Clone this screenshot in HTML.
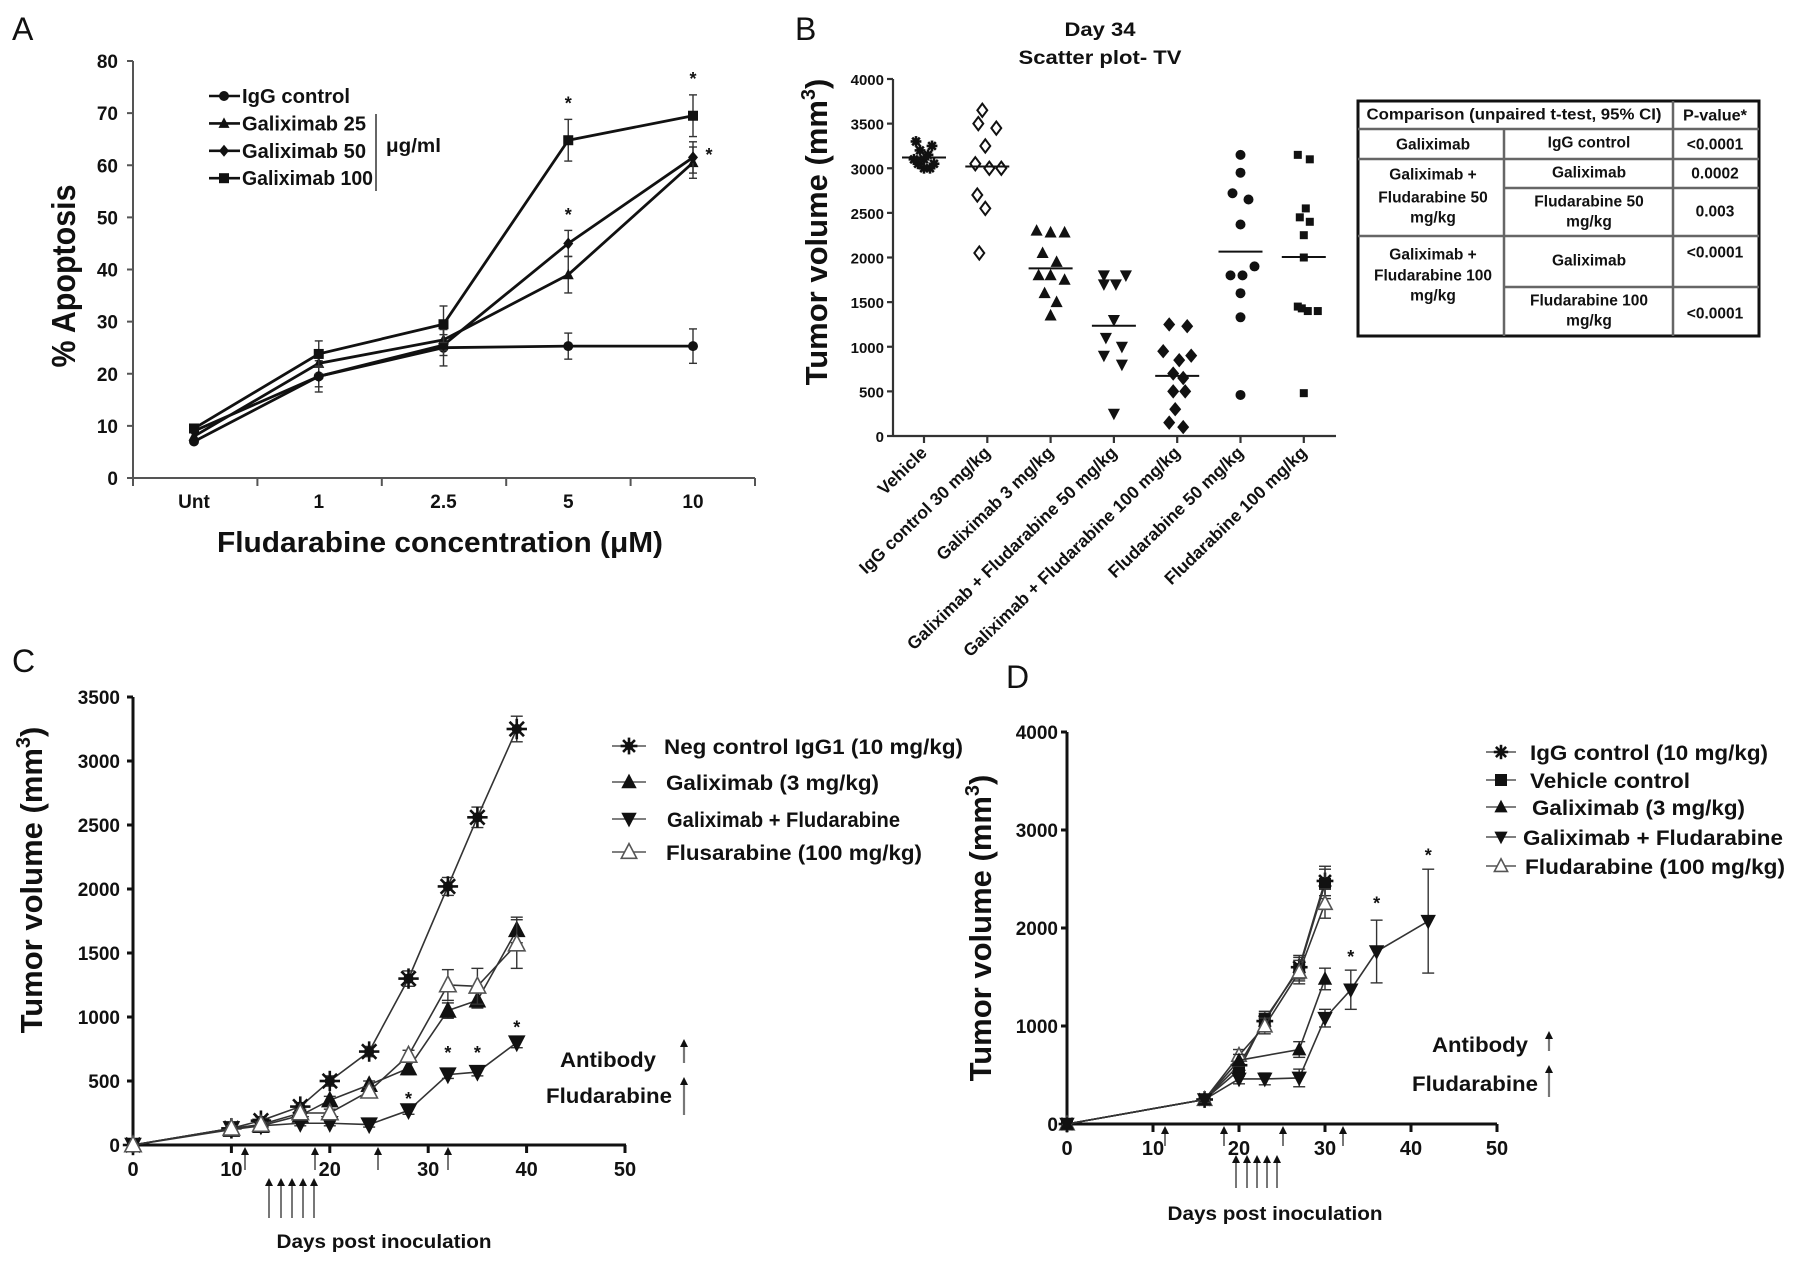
<!DOCTYPE html>
<html><head><meta charset="utf-8"><style>
html,body{margin:0;padding:0;background:#fff}
svg{display:block;font-family:"Liberation Sans",Arial,sans-serif}
</style></head><body>
<svg id="root" xmlns="http://www.w3.org/2000/svg" width="1795" height="1266" viewBox="0 0 1795 1266">
<rect width="1795" height="1266" fill="#fff"/>
<g id="pA"></g>
<g id="pB"></g>
<g id="pC"></g>
<g id="pD"></g>
</svg>
<script>
// ---------- Panel A data ----------
const catsA = ["Unt","1","2.5","5","10"];
const ticksA = [0,10,20,30,40,50,60,70,80];
const aIgg = [7,19.5,25,25.3,25.3];
const aIggErr = [1,3,3.5,2.5,3.3];
const aG25 = [8,22,26.5,39,60.5];
const aG25Err = [1,2,2,3.5,3];
const aG50 = [9,19.5,25.5,45,61.5];
const aG50Err = [1,2,2,2.5,3];
const aG100 = [9.5,23.8,29.5,64.8,69.5];
const aG100Err = [1,2.5,3.5,4,4];
// ---------- Panel B data ----------
const catsB = ["Vehicle","IgG control 30 mg/kg","Galiximab 3 mg/kg","Galiximab + Fludarabine 50 mg/kg","Galiximab + Fludarabine 100 mg/kg","Fludarabine 50 mg/kg","Fludarabine 100 mg/kg"];
const ticksB = [0,500,1000,1500,2000,2500,3000,3500,4000];
const bVehicle = [3300,3250,3200,3150,3100,3100,3050,3050,3000,3000];
const bIgg = [3650,3500,3450,3250,3050,3000,3000,2700,2550,2050];
const bGal = [2300,2280,2280,2050,1950,1800,1800,1750,1600,1500,1350];
const bGF50 = [1800,1800,1700,1700,1300,1100,1000,900,800,250];
const bGF100 = [1250,1230,950,900,850,700,650,500,500,300,150,100];
const bF50 = [3150,2950,2720,2650,2370,1900,1800,1800,1600,1330,460];
const bF100 = [3150,3100,2550,2450,2400,2250,2000,1450,1400,1400,1430,480];
// ---------- Panel C data ----------
const daysC = [0,10,13,17,20,24,28,32,35,39];
const ticksCy = [0,500,1000,1500,2000,2500,3000,3500];
const ticksCx = [0,10,20,30,40,50];
const cIgg = [0,130,190,300,500,730,1300,2020,2560,3250];
const cIggErr = [0,20,30,30,40,40,60,70,80,100];
const cGal = [0,120,150,230,350,470,600,1050,1130,1680];
const cGalErr = [0,20,20,30,30,30,50,60,60,100];
const cGF = [0,130,150,170,170,160,270,550,570,800];
const cGFErr = [0,20,20,20,20,20,30,30,30,40];
const cFlu = [0,130,160,250,250,420,700,1250,1240,1570];
const cFluErr = [0,20,20,30,30,30,40,120,140,190];
const cStarDays = [28,32,35,39];
const cStarVals = [375,733,733,935];
// ---------- Panel D data ----------
const ticksDy = [0,1000,2000,3000,4000];
const ticksDx = [0,10,20,30,40,50];
const dDays5 = [0,16,20,23,27,30];
const dIgg = [0,250,600,1050,1600,2480];
const dVeh = [0,250,550,1070,1580,2450];
const dFlu = [0,250,700,1000,1550,2250];
const dCtrlErr = [0,30,60,80,120,150];
const dDaysGal = [0,16,20,27,30];
const dGal = [0,250,650,760,1480];
const dGalErr = [0,30,60,80,110];
const dDaysGF = [0,16,20,23,27,30,33,36,42];
const dGF = [0,250,460,460,470,1080,1370,1760,2070];
const dGFErr = [0,30,50,60,90,90,200,320,530];
const dStarDays = [33,36,42];
const dStarVals = [1722,2270,2760];

const NS = "http://www.w3.org/2000/svg";
function mk(tag, attrs, parent){
  const e = document.createElementNS(NS, tag);
  for (const k in attrs) e.setAttribute(k, attrs[k]);
  parent.appendChild(e);
  return e;
}
function txt(parent, x, y, s, size, opts){
  opts = opts || {};
  const e = mk("text", {x:x, y:y, "font-size":size, "font-weight":opts.w||"bold", "text-anchor":opts.a||"start", fill:opts.fill||"#111"}, parent);
  if (opts.tl) { e.setAttribute("textLength", opts.tl); e.setAttribute("lengthAdjust","spacingAndGlyphs"); }
  if (opts.tr) e.setAttribute("transform", opts.tr);
  if (opts.db) e.setAttribute("dominant-baseline", opts.db);
  e.textContent = s;
  return e;
}
function marker(parent, type, cx, cy, s, color){
  color = color || "#111";
  let e;
  if (type==="circle") e = mk("circle",{cx:cx,cy:cy,r:s/2,fill:color},parent);
  else if (type==="square") e = mk("rect",{x:cx-s/2,y:cy-s/2,width:s,height:s,fill:color},parent);
  else if (type==="diamond") e = mk("polygon",{points:`${cx},${cy-s*0.6} ${cx+s*0.5},${cy} ${cx},${cy+s*0.6} ${cx-s*0.5},${cy}`,fill:color},parent);
  else if (type==="odiamond") e = mk("polygon",{points:`${cx},${cy-s*0.6} ${cx+s*0.45},${cy} ${cx},${cy+s*0.6} ${cx-s*0.45},${cy}`,fill:"#fff",stroke:color,"stroke-width":2},parent);
  else if (type==="tri") e = mk("polygon",{points:`${cx},${cy-s*0.6} ${cx+s*0.55},${cy+s*0.45} ${cx-s*0.55},${cy+s*0.45}`,fill:color},parent);
  else if (type==="otri") e = mk("polygon",{points:`${cx},${cy-s*0.6} ${cx+s*0.55},${cy+s*0.45} ${cx-s*0.55},${cy+s*0.45}`,fill:"#fff",stroke:"#555","stroke-width":1.6},parent);
  else if (type==="dtri") e = mk("polygon",{points:`${cx},${cy+s*0.6} ${cx+s*0.55},${cy-s*0.45} ${cx-s*0.55},${cy-s*0.45}`,fill:color},parent);
  else if (type==="star") {
    e = mk("g",{},parent);
    mk("circle",{cx:cx,cy:cy,r:s*0.3,fill:color},e);
    for (let k=0;k<8;k++){
      const a = k*Math.PI/4;
      mk("line",{x1:cx,y1:cy,x2:cx+Math.cos(a)*s*0.6,y2:cy+Math.sin(a)*s*0.6,stroke:color,"stroke-width":2.6},e);
    }
  }
  return e;
}
function errbar(parent, x, y1, y2, cap, w){
  const g = mk("g",{stroke:"#333","stroke-width":w||1.5},parent);
  mk("line",{x1:x,y1:y1,x2:x,y2:y2},g);
  mk("line",{x1:x-cap,y1:y1,x2:x+cap,y2:y1},g);
  mk("line",{x1:x-cap,y1:y2,x2:x+cap,y2:y2},g);
  return g;
}
function arrow(parent, x, y1, y2, color, w){
  const g = mk("g",{},parent);
  mk("line",{x1:x,y1:y1+5,x2:x,y2:y2,stroke:color,"stroke-width":w||2},g);
  mk("polygon",{points:`${x},${y1} ${x+4},${y1+8} ${x-4},${y1+8}`,fill:"#111"},g);
  return g;
}

// ================= PANEL A =================
(function(){
  const P = document.getElementById("pA");
  const xA = i => 194 + i*124.75;
  const yA = v => 478 - v*(417/80);
  let t = txt(P, 12, 40, "A", 32, {w:"normal"});
  
  
  const ax = mk("g",{stroke:"#555","stroke-width":2},P);
  
  
  mk("line",{x1:133,y1:61,x2:133,y2:479},ax);
  mk("line",{x1:133,y1:478,x2:755,y2:478},ax);
  for (let k=0;k<=5;k++) mk("line",{x1:133+k*124.4,y1:478,x2:133+k*124.4,y2:486},ax);
  ticksA.forEach(v=>{
    mk("line",{x1:127,y1:yA(v),x2:133,y2:yA(v)},ax);
    const l = txt(P, 118, yA(v)+7, String(v), 19, {a:"end"});
    
    
  });
  catsA.forEach((c,i)=>{
    const l = txt(P, xA(i), 508, c, 19, {a:"middle"});
    
    
  });
  t = txt(P, 440, 552, "Fludarabine concentration (μM)", 29, {a:"middle", tl:446});
  
  
  t = txt(P, 0, 0, "% Apoptosis", 33, {a:"middle", tl:183, tr:"translate(75,276) rotate(-90)"});
  
  
  const series = [
    {name:"igg-control", d:aIgg, e:aIggErr, m:"circle"},
    {name:"galiximab-25", d:aG25, e:aG25Err, m:"tri"},
    {name:"galiximab-50", d:aG50, e:aG50Err, m:"diamond"},
    {name:"galiximab-100", d:aG100, e:aG100Err, m:"square"}
  ];
  series.forEach(s=>{
    const g = mk("g",{},P);
    
    
    s.d.forEach((v,i)=>{ if(i>0) errbar(g, xA(i), yA(v+s.e[i]), yA(v-s.e[i]), 4, 1.4); });
    mk("polyline",{points:s.d.map((v,i)=>xA(i)+","+yA(v)).join(" "),fill:"none",stroke:"#111","stroke-width":2.8},g);
    s.d.forEach((v,i)=>{
      const m = marker(g, s.m, xA(i), yA(v), 10);
      
      
    });
  });
  [[3,aG100[3]+aG100Err[3]+3,0],[4,aG100[4]+aG100Err[4]+3,0],[3,aG50[3]+aG50Err[3]+3,0],[4,aG50[4]+0.5,16]].forEach(s=>{
    const st = txt(P, xA(s[0])+s[2], yA(s[1])+6, "*", 18, {a:"middle"});
    
    
  });
  const lg = mk("g",{},P);
  
  
  const labs = ["IgG control","Galiximab 25","Galiximab 50","Galiximab 100"];
  const ms = ["circle","tri","diamond","square"];
  const lw = [108,124,124,131];
  labs.forEach((l,i)=>{
    const y = 96 + i*27.4;
    const en = mk("g",{},lg);
    
    
    mk("line",{x1:209,y1:y,x2:240,y2:y,stroke:"#111","stroke-width":2.6},en);
    marker(en, ms[i], 224, y, 10);
    txt(en, 242, y+7, l, 20, {tl:lw[i]});
  });
  mk("line",{x1:376,y1:114,x2:376,y2:191,stroke:"#333","stroke-width":1.5},lg);
  txt(lg, 386, 152, "μg/ml", 19, {tl:55});
})();

// ================= PANEL B =================
(function(){
  const P = document.getElementById("pB");
  const xB = i => 924 + i*63.3;
  const yB = v => 436 - v*(357/4000);
  let t = txt(P, 795, 40, "B", 32, {w:"normal"});
  
  
  t = txt(P, 1100, 36, "Day 34", 19, {a:"middle", tl:71});
  
  
  t = txt(P, 1100, 64, "Scatter plot- TV", 19, {a:"middle", tl:163});
  
  
  const ax = mk("g",{stroke:"#333","stroke-width":2.2},P);
  
  
  mk("line",{x1:893,y1:79,x2:893,y2:437},ax);
  mk("line",{x1:893,y1:436,x2:1336,y2:436},ax);
  ticksB.forEach(v=>{
    mk("line",{x1:887,y1:yB(v),x2:893,y2:yB(v)},ax);
    const l = txt(P, 884, yB(v)+6, String(v), 15, {a:"end"});
    
    
  });
  catsB.forEach((c,i)=>{
    mk("line",{x1:xB(i),y1:436,x2:xB(i),y2:443},ax);
    const l = txt(P, 0, 0, c, 17.5, {a:"end", tr:`translate(${xB(i)+4},454) rotate(-44)`});
    
    
  });
  const yt = mk("text",{"font-size":31,"font-weight":"bold","text-anchor":"middle",fill:"#111",transform:"translate(827,232) rotate(-90)"},P);
  
  
  const t1 = mk("tspan",{},yt); t1.textContent = "Tumor volume (mm";
  const t2 = mk("tspan",{dy:-12,"font-size":20},yt); t2.textContent = "3";
  const t3 = mk("tspan",{dy:12},yt); t3.textContent = ")";
  const groups = [
    {name:"vehicle", d:bVehicle, m:"star", s:9, sp:[-8,8,-4,4,0,-10,10,-6,6,0]},
    {name:"igg-control", d:bIgg, m:"odiamond", s:11, sp:[-5,-9,9,-2,-12,2,14,-10,-2,-8]},
    {name:"galiximab", d:bGal, m:"tri", s:11, sp:[-14,0,14,-8,6,-12,0,14,-6,6,0]},
    {name:"galiximab-fludarabine-50", d:bGF50, m:"dtri", s:11, sp:[-10,12,-10,2,0,-8,8,-10,8,0]},
    {name:"galiximab-fludarabine-100", d:bGF100, m:"diamond", s:12, sp:[-8,10,-14,14,2,-4,6,-4,8,-2,-8,6]},
    {name:"fludarabine-50", d:bF50, m:"circle", s:10, sp:[0,0,-8,8,0,14,-10,2,0,0,0]},
    {name:"fludarabine-100", d:bF100, m:"square", s:8, sp:[-6,6,2,-4,6,0,0,-6,4,14,-2,0]}
  ];
  groups.forEach((g0,i)=>{
    const g = mk("g",{},P);
    
    
    g0.d.forEach((v,j)=>{
      const m = marker(g, g0.m, xB(i)+(g0.sp[j]||0), yB(v), g0.s);
      
      
    });
    const mean = g0.d.reduce((a,b)=>a+b,0)/g0.d.length;
    const ml = mk("line",{x1:xB(i)-22,y1:yB(mean),x2:xB(i)+22,y2:yB(mean),stroke:"#111","stroke-width":2},g);
    
    
  });
  const T = mk("g",{},P);
  
  
  mk("rect",{x:1358,y:101,width:401,height:235,fill:"#fff",stroke:"#111","stroke-width":3},T);
  const gl = mk("g",{stroke:"#666","stroke-width":2.5},T);
  mk("line",{x1:1673,y1:101,x2:1673,y2:336},gl);
  mk("line",{x1:1504,y1:129,x2:1504,y2:336},gl);
  mk("line",{x1:1358,y1:129,x2:1759,y2:129},gl);
  mk("line",{x1:1358,y1:159,x2:1759,y2:159},gl);
  mk("line",{x1:1504,y1:188,x2:1759,y2:188},gl);
  mk("line",{x1:1358,y1:236,x2:1759,y2:236},gl);
  mk("line",{x1:1504,y1:287,x2:1759,y2:287},gl);
  const cells = [
    [1514,115,"Comparison (unpaired t-test, 95% CI)",295],[1715,116,"P-value*",64],
    [1433,145,"Galiximab",0],[1589,143,"IgG control",0],[1715,145,"<0.0001",0],
    [1433,175,"Galiximab +",0],[1433,198,"Fludarabine 50",0],[1433,218,"mg/kg",0],
    [1589,173,"Galiximab",0],[1715,174,"0.0002",0],
    [1589,202,"Fludarabine 50",0],[1589,222,"mg/kg",0],[1715,212,"0.003",0],
    [1433,255,"Galiximab +",0],[1433,276,"Fludarabine 100",0],[1433,296,"mg/kg",0],
    [1589,261,"Galiximab",0],[1715,253,"<0.0001",0],
    [1589,301,"Fludarabine 100",0],[1589,321,"mg/kg",0],[1715,314,"<0.0001",0]
  ];
  cells.forEach(c=>{
    const o = {a:"middle", db:"central"};
    if (c[3]) o.tl = c[3];
    const e = txt(T, c[0], c[1], c[2], 15.5, o);
    
    
  });
})();

function curvePanel(P, xf, yf, series, lw){
  series.forEach(s=>{
    const g = mk("g",{},P);
    
    
    s.v.forEach((v,i)=>{ if (s.e[i]>0) errbar(g, xf(s.x[i]), yf(v+s.e[i]), yf(v-s.e[i]), 6, 1.4); });
    mk("polyline",{points:s.v.map((v,i)=>xf(s.x[i])+","+yf(v)).join(" "),fill:"none",stroke:s.c||"#333","stroke-width":lw},g);
    s.v.forEach((v,i)=>{
      const m = marker(g, s.m, xf(s.x[i]), yf(v), s.s);
      
      
    });
  });
}

// ================= PANEL C =================
(function(){
  const P = document.getElementById("pC");
  const xC = d => 133 + d*9.84;
  const yC = v => 1145 - v*(448/3500);
  let t = txt(P, 12, 672, "C", 32, {w:"normal"});
  
  
  const ax = mk("g",{stroke:"#111","stroke-width":3},P);
  
  
  mk("line",{x1:133,y1:697,x2:133,y2:1146},ax);
  mk("line",{x1:133,y1:1145,x2:626,y2:1145},ax);
  ticksCy.forEach(v=>{
    mk("line",{x1:127,y1:yC(v),x2:133,y2:yC(v)},ax);
    const l = txt(P, 120, yC(v)+7, String(v), 19, {a:"end"});
    
    
  });
  ticksCx.forEach(d=>{
    mk("line",{x1:xC(d),y1:1145,x2:xC(d),y2:1153},ax);
    const l = txt(P, xC(d), 1176, String(d), 20, {a:"middle"});
    
    
  });
  const yt = mk("text",{"font-size":31,"font-weight":"bold","text-anchor":"middle",fill:"#111",transform:"translate(42,880) rotate(-90)"},P);
  
  
  let a1 = mk("tspan",{},yt); a1.textContent = "Tumor volume (mm";
  let a2 = mk("tspan",{dy:-12,"font-size":20},yt); a2.textContent = "3";
  let a3 = mk("tspan",{dy:12},yt); a3.textContent = ")";
  t = txt(P, 384, 1248, "Days post inoculation", 19, {a:"middle", tl:215});
  
  
  curvePanel(P, xC, yC, [
    {name:"neg-control-igg1", x:daysC, v:cIgg, e:cIggErr, m:"star", s:17},
    {name:"galiximab", x:daysC, v:cGal, e:cGalErr, m:"tri", s:16},
    {name:"galiximab-fludarabine", x:daysC, v:cGF, e:cGFErr, m:"dtri", s:16},
    {name:"fludarabine", x:daysC, v:cFlu, e:cFluErr, m:"otri", s:15}
  ], 1.6);
  cStarDays.forEach((d,i)=>{
    const s = txt(P, xC(d), yC(cStarVals[i])+8, "*", 18, {a:"middle"});
    
    
  });
  [245,315,378,448].forEach(x=>{ const a = arrow(P, x, 1147, 1170, "#777", 2);
    
     });
  [269,281,292,303,314].forEach(x=>{ const a = arrow(P, x, 1178, 1218, "#777", 2);
    
     });
  const lg = mk("g",{},P);
  
  
  const labs = ["Neg control IgG1 (10 mg/kg)","Galiximab (3 mg/kg)","Galiximab + Fludarabine","Flusarabine (100 mg/kg)"];
  const lws = [299,213,233,256];
  const lx = [664,666,667,666];
  const ms = ["star","tri","dtri","otri"];
  [746,782,819,852].forEach((y,i)=>{
    const en = mk("g",{},lg);
    
    
    mk("line",{x1:612,y1:y,x2:646,y2:y,stroke:"#555","stroke-width":1.6},en);
    marker(en, ms[i], 629, y, 14);
    txt(en, lx[i], y+8, labs[i], 21, {tl:lws[i]});
  });
  t = txt(P, 656, 1067, "Antibody", 21, {a:"end", tl:96});
  
  
  arrow(P, 684, 1039, 1063, "#777", 2.2);
  t = txt(P, 672, 1103, "Fludarabine", 21, {a:"end", tl:126});
  
  
  arrow(P, 684, 1077, 1115, "#777", 2.2);
})();

// ================= PANEL D =================
(function(){
  const P = document.getElementById("pD");
  const xD = d => 1067 + d*8.6;
  const yD = v => 1124 - v*0.098;
  let t = txt(P, 1006, 688, "D", 32, {w:"normal"});
  
  
  const ax = mk("g",{stroke:"#111","stroke-width":3},P);
  
  
  mk("line",{x1:1067,y1:732,x2:1067,y2:1125},ax);
  mk("line",{x1:1067,y1:1124,x2:1497,y2:1124},ax);
  ticksDy.forEach(v=>{
    mk("line",{x1:1061,y1:yD(v),x2:1067,y2:yD(v)},ax);
    const l = txt(P, 1058, yD(v)+7, String(v), 19, {a:"end"});
    
    
  });
  ticksDx.forEach(d=>{
    mk("line",{x1:xD(d),y1:1124,x2:xD(d),y2:1132},ax);
    const l = txt(P, xD(d), 1155, String(d), 20, {a:"middle"});
    
    
  });
  const yt = mk("text",{"font-size":31,"font-weight":"bold","text-anchor":"middle",fill:"#111",transform:"translate(991,928) rotate(-90)"},P);
  
  
  let a1 = mk("tspan",{},yt); a1.textContent = "Tumor volume (mm";
  let a2 = mk("tspan",{dy:-12,"font-size":20},yt); a2.textContent = "3";
  let a3 = mk("tspan",{dy:12},yt); a3.textContent = ")";
  t = txt(P, 1275, 1220, "Days post inoculation", 19, {a:"middle", tl:215});
  
  
  curvePanel(P, xD, yD, [
    {name:"igg-control", x:dDays5, v:dIgg, e:dCtrlErr, m:"star", s:14},
    {name:"vehicle-control", x:dDays5, v:dVeh, e:dCtrlErr, m:"square", s:12},
    {name:"fludarabine", x:dDays5, v:dFlu, e:dCtrlErr, m:"otri", s:13},
    {name:"galiximab", x:dDaysGal, v:dGal, e:dGalErr, m:"tri", s:13},
    {name:"galiximab-fludarabine", x:dDaysGF, v:dGF, e:dGFErr, m:"dtri", s:14}
  ], 1.6);
  dStarDays.forEach((d,i)=>{
    const s = txt(P, xD(d), yD(dStarVals[i])+8, "*", 18, {a:"middle"});
    
    
  });
  [1165,1224,1283,1343].forEach(x=>{ const a = arrow(P, x, 1126, 1146, "#777", 2);
    
     });
  [1236,1247,1257,1267,1277].forEach(x=>{ const a = arrow(P, x, 1155, 1188, "#777", 2);
    
     });
  const lg = mk("g",{},P);
  
  
  const labs = ["IgG control (10 mg/kg)","Vehicle control","Galiximab (3 mg/kg)","Galiximab + Fludarabine","Fludarabine (100 mg/kg)"];
  const lws = [238,160,213,260,260];
  const lx = [1530,1530,1532,1523,1525];
  const ms = ["star","square","tri","dtri","otri"];
  [752,780,807,837,866].forEach((y,i)=>{
    const en = mk("g",{},lg);
    
    
    mk("line",{x1:1486,y1:y,x2:1516,y2:y,stroke:"#555","stroke-width":1.6},en);
    marker(en, ms[i], 1501, y, 12);
    txt(en, lx[i], y+8, labs[i], 21, {tl:lws[i]});
  });
  t = txt(P, 1528, 1052, "Antibody", 21, {a:"end", tl:96});
  
  
  arrow(P, 1549, 1031, 1051, "#777", 2.2);
  t = txt(P, 1538, 1091, "Fludarabine", 21, {a:"end", tl:126});
  
  
  arrow(P, 1549, 1065, 1097, "#777", 2.2);
})();
</script>
</body></html>
